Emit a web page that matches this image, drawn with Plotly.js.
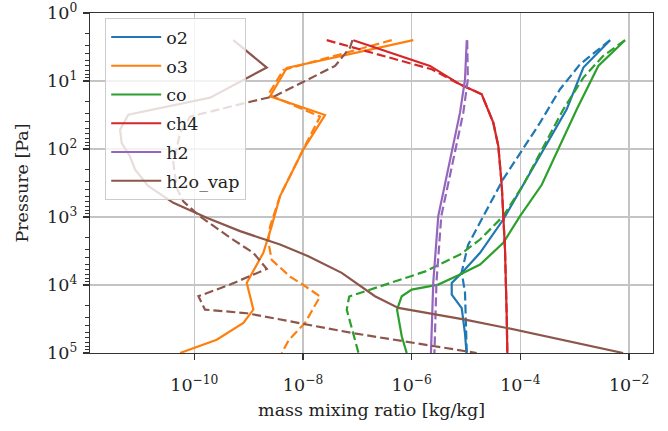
<!DOCTYPE html>
<html><head><meta charset="utf-8">
<script src="https://cdn.plot.ly/plotly-3.0.1.min.js"></script>
<style>html,body{margin:0;padding:0;background:#fff}#chart{width:668px;height:431px}</style>
</head><body><div id="chart"></div>
<script>
// ---- data ----
const o2P   = [2.51, 6.35, 26.1, 101, 336, 1089, 3365, 6637, 9311, 13840, 21880, 51290, 100000];
const o2    = [4.46e-3, 1.44e-3, 7.11e-4, 2.64e-4, 1.13e-4, 4.84e-5, 1.81e-5, 8.32e-6, 5.45e-6, 5.45e-6, 8.32e-6, 9.55e-6, 1.02e-5];
const o2bP  = [2.51, 5.68, 13.2, 41.0, 280, 977, 2570, 6457, 13060, 100000];
const o2b   = [4.46e-3, 1.25e-3, 5.36e-4, 2.30e-4, 4.79e-5, 2.05e-5, 1.09e-5, 8.32e-6, 9.57e-6, 1.03e-5];

const o3P   = [2.51, 6.41, 16.8, 31.6, 102, 492, 1361, 3365, 9311, 23010, 36140, 63680, 100000];
const o3    = [1.07e-6, 5.01e-9, 2.47e-9, 2.54e-8, 1.01e-8, 3.78e-9, 2.65e-9, 1.86e-9, 9.20e-10, 1.22e-9, 7.98e-10, 2.58e-10, 5.46e-11];
const o3bP  = [2.51, 6.87, 15.8, 33.4, 102, 492, 1380, 2300, 4270, 7520, 9980, 14700, 36100, 63700, 100000];
const o3b   = [4.29e-7, 4.35e-9, 2.30e-9, 2.06e-8, 1.0e-8, 3.78e-9, 2.47e-9, 2.30e-9, 2.65e-9, 5.77e-9, 1.01e-8, 2.06e-8, 1.09e-8, 5.52e-9, 4.06e-9];

const coP   = [2.51, 6.0, 26.1, 113, 336, 971, 2399, 5012, 7031, 9863, 11690, 14620, 23010, 56750, 100000];
const co    = [8.41e-3, 2.71e-3, 1.09e-3, 4.66e-4, 2.47e-4, 9.84e-5, 4.84e-5, 1.81e-5, 7.74e-6, 3.08e-6, 1.0e-6, 6.55e-7, 5.37e-7, 6.55e-7, 8.09e-7];
const cobP  = [2.51, 4.27, 8.91, 26.1, 336, 971, 2143, 3565, 6310, 14790, 23010, 50700, 100000];
const cob   = [8.41e-3, 3.35e-3, 1.44e-3, 6.17e-4, 1.13e-4, 4.84e-5, 1.81e-5, 7.74e-6, 1.78e-6, 7.08e-8, 6.37e-8, 8.43e-8, 1.05e-7];

const ch4P  = [2.51, 6.0, 11.2, 15.7, 41.0, 90.4, 336, 3006, 28840, 100000];
const ch4   = [8.43e-8, 2.17e-6, 7.74e-6, 1.94e-5, 3.17e-5, 3.92e-5, 4.53e-5, 5.21e-5, 5.60e-5, 5.75e-5];
const ch4bP = [2.51, 6.73, 11.2, 15.7, 41.0, 90.4, 336, 3006, 28840, 100000];
const ch4b  = [2.73e-8, 2.33e-6, 7.74e-6, 1.94e-5, 3.17e-5, 3.92e-5, 4.53e-5, 5.21e-5, 5.60e-5, 5.75e-5];

const h2P   = [2.51, 9.44, 29.2, 336, 971, 9311, 100000];
const h2    = [1.03e-5, 9.57e-6, 7.74e-6, 4.10e-6, 3.08e-6, 2.49e-6, 2.26e-6];
const h2bP  = [2.51, 9.44, 29.2, 336, 971, 9311, 100000];
const h2b   = [1.05e-5, 1.08e-5, 8.9e-6, 4.6e-6, 3.5e-6, 2.85e-6, 2.62e-6];

const h2oP  = [2.51, 6.35, 17.6, 31.3, 52.0, 81.7, 129, 202, 348, 618, 1028, 1614, 2541, 3767, 6637, 14620, 21730, 25760, 32360, 42850, 63680, 100000];
const h2o   = [5.22e-10, 2.15e-9, 1.95e-10, 6.11e-12, 4.30e-12, 4.61e-12, 6.56e-12, 8.13e-12, 1.41e-11, 4.11e-11, 1.69e-10, 6.93e-10, 3.78e-9, 1.25e-8, 5.15e-8, 2.11e-7, 5.68e-7, 2.02e-6, 9.57e-6, 5.60e-5, 5.36e-4, 7.76e-3];
const h2obP = [2.51, 3.22, 6.0, 16.6, 20.8, 33.4, 58.1, 161, 375, 592, 984, 2168, 3365, 5794, 9863, 14620, 23010, 26000, 50700, 100000];
const h2ob  = [8.13e-8, 7.33e-8, 3.89e-8, 3.06e-9, 9.20e-10, 8.34e-11, 5.46e-11, 4.11e-11, 4.75e-11, 6.31e-11, 1.28e-10, 5.22e-10, 1.22e-9, 2.15e-9, 4.54e-10, 1.19e-10, 1.57e-10, 9.20e-10, 7.94e-8, 1.57e-5];

const names  = ['o2', 'o3', 'co', 'ch4', 'h2', 'h2o_vap'];
const colors = ['#1f77b4', '#ff7f0e', '#2ca02c', '#d62728', '#9467bd', '#8c564b'];
const solidX = [o2, o3, co, ch4, h2, h2o];
const solidY = [o2P, o3P, coP, ch4P, h2P, h2oP];
const dashX  = [o2b, o3b, cob, ch4b, h2b, h2ob];
const dashY  = [o2bP, o3bP, cobP, ch4bP, h2bP, h2obP];

const xTickVals = [1e-10, 1e-8, 1e-6, 1e-4, 1e-2];
const xTickText = ['10<sup>−10</sup>', '10<sup>−8</sup>', '10<sup>−6</sup>', '10<sup>−4</sup>', '10<sup>−2</sup>'];
const yTickVals = [1, 10, 100, 1000, 1e4, 1e5];
const yTickText = ['10<sup>0</sup>', '10<sup>1</sup>', '10<sup>2</sup>', '10<sup>3</sup>', '10<sup>4</sup>', '10<sup>5</sup>'];

// ---- build ----
const traces = [];
for (let i = 0; i < names.length; i++) {
  traces.push({x: solidX[i], y: solidY[i], type: 'scatter', mode: 'lines', name: names[i],
    legendgroup: 'g' + i, line: {color: colors[i], width: 2.2}});
  traces.push({x: dashX[i], y: dashY[i], type: 'scatter', mode: 'lines', name: names[i] + ' (2)',
    legendgroup: 'g' + i, showlegend: false, line: {color: colors[i], width: 2.2, dash: '9px,4px'}});
}
const minorY = [];
for (let d = 0; d < 5; d++) for (let k = 2; k <= 9; k++) minorY.push(k * Math.pow(10, d));

const FONT = 'DejaVu Serif, Liberation Serif, serif';
const FS = 17.5;
const layout = {
  width: 668, height: 431,
  margin: {l: 90, r: 15, t: 13, b: 78},
  paper_bgcolor: '#fff', plot_bgcolor: '#fff',
  font: {family: FONT, size: FS, color: '#222'},
  showlegend: true,
  xaxis: {type: 'log', range: [-11.92, -1.56], tickmode: 'array', tickvals: xTickVals, ticktext: xTickText,
    ticks: 'outside', ticklen: 6, tickwidth: 1.2, tickcolor: '#333', ticklabelstandoff: 10,
    showgrid: true, gridcolor: '#c4c4c4', gridwidth: 1.3, zeroline: false,
    showline: true, linecolor: '#333', linewidth: 1.3, mirror: true,
    tickfont: {family: FONT, size: FS, color: '#222'},
    title: {text: 'mass mixing ratio [kg/kg]', font: {family: FONT, size: FS, color: '#222'}, standoff: 9}},
  yaxis: {type: 'log', range: [5, 0], tickmode: 'array', tickvals: yTickVals, ticktext: yTickText,
    ticks: 'outside', ticklen: 6, tickwidth: 1.2, tickcolor: '#333', ticklabelstandoff: 2,
    minor: {tickmode: 'array', tickvals: minorY, ticks: 'outside', ticklen: 3.3, tickwidth: 1, tickcolor: '#333', showgrid: false},
    showgrid: true, gridcolor: '#c4c4c4', gridwidth: 1.3, zeroline: false,
    showline: true, linecolor: '#333', linewidth: 1.3, mirror: true,
    tickfont: {family: FONT, size: FS, color: '#222'},
    title: {text: 'Pressure [Pa]', font: {family: FONT, size: FS, color: '#222'}, standoff: 14}},
  legend: {x: 0.027, y: 0.985, xanchor: 'left', yanchor: 'top', traceorder: 'grouped', tracegroupgap: 3,
    bgcolor: 'rgba(255,255,255,0.8)', bordercolor: '#cccccc', borderwidth: 1,
    font: {family: FONT, size: FS, color: '#222'}, itemwidth: 50}
};
Plotly.newPlot('chart', traces, layout, {staticPlot: true, displayModeBar: false});
</script></body></html>
